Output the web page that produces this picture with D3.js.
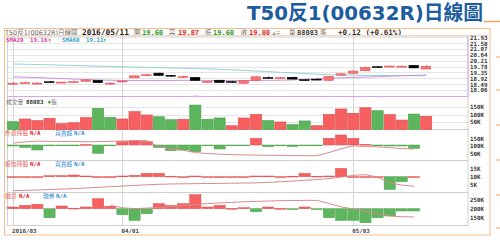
<!DOCTYPE html>
<html>
<head>
<meta charset="utf-8">
<script src="https://cdnjs.cloudflare.com/ajax/libs/d3/7.8.5/d3.min.js"></script>
<style>
  body { margin: 0; background: #fff; }
  svg { display: block; }
  text { font-family: "DejaVu Sans", "Noto Sans CJK TC", sans-serif; }
  .mono { font-family: "DejaVu Sans Mono", "Noto Sans CJK TC", monospace; font-weight: bold; }
</style>
</head>
<body>
<svg id="chart" width="500" height="240"></svg>
<script>
// trading days shown (2016/03/21 .. 2016/05/11)
const dates = ['03/21','03/22','03/23','03/24','03/25','03/28','03/29','03/30','03/31',
  '04/01','04/06','04/07','04/08','04/11','04/12','04/13','04/14','04/15','04/18','04/19',
  '04/20','04/21','04/22','04/25','04/26','04/27','04/28','04/29',
  '05/03','05/04','05/05','05/06','05/09','05/10','05/11'];
const dateTicks = { '03/21': '2016/03', '04/01': '04/01', '05/03': '05/03' };

const open  = [18.52,18.56,18.54,18.67,18.60,18.64,18.70,18.77,18.53,18.68,18.95,19.12,19.30,19.14,19.00,18.99,18.64,18.78,18.68,18.55,18.75,18.98,18.93,19.00,18.82,18.86,18.76,19.15,19.28,19.47,19.78,19.78,19.78,19.87,19.60];
const high  = [18.62,18.66,18.62,18.72,18.66,18.74,18.85,18.78,18.60,18.74,19.12,19.25,19.32,19.18,19.10,19.00,18.72,18.80,18.72,18.76,19.05,19.04,19.00,19.00,18.84,18.90,19.09,19.28,19.48,19.78,19.80,19.85,19.85,19.90,19.87];
const low   = [18.48,18.54,18.52,18.58,18.58,18.62,18.68,18.58,18.45,18.66,18.94,19.10,19.10,19.05,18.98,18.74,18.60,18.58,18.62,18.50,18.74,18.93,18.90,18.85,18.74,18.80,18.74,19.12,19.26,19.45,19.68,19.76,19.76,19.66,19.60];
const close = [18.56,18.60,18.57,18.62,18.64,18.68,18.80,18.60,18.57,18.72,19.10,19.18,19.12,19.08,19.06,18.76,18.70,18.60,18.65,18.74,19.03,18.95,18.97,18.86,18.78,18.83,19.07,19.25,19.45,19.72,19.75,19.82,19.81,19.68,19.80];

const sma20 = [19.03,19.00,18.97,18.93,18.90,18.86,18.83,18.80,18.78,18.76,18.75,18.75,18.76,18.76,18.77,18.77,18.76,18.75,18.75,18.75,18.76,18.77,18.78,18.80,18.84,18.88,18.92,18.95,18.98,19.01,19.04,19.07,19.10,19.13,19.16];
const sma60 = [19.97,19.95,19.93,19.91,19.88,19.86,19.84,19.81,19.79,19.77,19.74,19.72,19.70,19.68,19.66,19.63,19.61,19.58,19.54,19.50,19.45,19.41,19.36,19.32,19.27,19.22,19.18,19.16,19.15,19.14,19.13,19.12,19.12,19.11,19.11];

// volume (張) and bar colour: 1 = up (red), 0 = down (green)
const volume = [52000,70000,59000,75000,39000,45000,79000,141000,81000,70000,119000,97000,85000,65000,68000,163000,68000,77000,25000,77000,
  101000,59000,50000,32000,57000,25000,101000,137000,108000,145000,125000,99000,63000,103000,88083];
const volUp = [0,1,1,1,1,1,1,0,0,1,1,1,0,0,1,0,0,0,1,1,1,0,1,0,0,1,1,1,1,1,0,1,1,0,1];

// 外資 net buy/sell and holding
const foreignNet  = [-300,-700,-1500,-150,-150,-150,150,-2500,-150,1000,1200,1000,-700,-1700,-1500,-2000,-200,-1200,-150,-150,
  2000,-500,-200,-450,-200,-150,2000,3000,2000,200,-150,-300,-300,-1000,null];
const foreignHold = [118000,126000,131000,130000,129000,128000,127000,128000,130000,132000,135000,135000,92000,82000,70000,55000,48000,44000,41000,39000,
  38000,37000,36000,35000,34000,34000,55000,80000,100000,95000,93000,88000,82000,78000,null];

// 投信 net buy/sell and holding
const trustNet  = [0,0,0,100,100,170,70,0,0,70,130,330,330,50,0,70,0,0,0,0,70,70,0,50,330,50,70,830,0,0,0,-1270,-500,0,null];
const trustHold = [1000,1200,1400,1700,2000,2300,2700,3100,3500,3900,4300,4700,5000,5200,5300,5400,5500,5600,5700,5800,
  5900,6200,6600,7000,7500,8000,8600,9500,10600,11000,9500,6000,4500,3800,null];

// 融資 change and balance
const marginNet = [340,660,860,-1800,540,100,340,2000,460,-1200,-2340,-1000,1000,660,1000,2800,340,660,60,200,
  -600,340,60,-140,340,-140,-1800,-2340,-2340,-2800,-1800,-1460,-460,-460,null];
const marginBal = [null,null,null,null,null,null,null,null,220000,205000,200000,203000,207000,212000,218000,224000,229000,233000,236000,240000,
  242000,244000,246000,247000,248000,248000,230000,210000,198000,185000,170000,158000,153000,152000,null];

const priceTicks = [21.93,21.50,21.07,20.64,20.21,19.78,19.35,18.92,18.49,18.06];
const volTicks = [150000,100000,50000];
const foreignTicks = [150000,100000,50000];
const trustTicks = [15000,10000,5000];
const marginTicks = [250000,200000,150000];

const RED = '#f66060', GREEN = '#5db65d';
const svg = d3.select('#chart');

// title
svg.append('text').attr('x', 247).attr('y', 20)
  .attr('font-family', '"Noto Sans CJK TC", sans-serif').attr('font-weight', 'bold')
  .attr('font-size', 20).attr('fill', '#1d5c9f')
  .attr('textLength', 236).attr('lengthAdjust', 'spacingAndGlyphs')
  .text('T50反1(00632R)日線圖');
svg.append('line').attr('x1', 484).attr('x2', 500).attr('y1', 21.5).attr('y2', 21.5)
  .attr('stroke', '#f5a55f').attr('stroke-width', 1.5);

// outer frame
svg.append('rect').attr('x', 4.5).attr('y', 28.5).attr('width', 485.5).attr('height', 206.5)
  .attr('fill', '#fff').attr('stroke', '#f7bd8d');
svg.selectAll('.otick').data([57, 90, 125, 160, 195, 228]).join('line')
  .attr('x1', 496).attr('x2', 500).attr('y1', d => d).attr('y2', d => d)
  .attr('stroke', '#f5a55f');

// scales
const x = d3.scaleBand().domain(d3.range(38)).range([7, 468.7]).paddingInner(0.08).paddingOuter(0.04);
const cx = i => x(i) + x.bandwidth() / 2;
const yPrice = d3.scaleLinear().domain([18.06, 21.93]).range([90, 37.3]);
const yVol = d3.scaleLinear().domain([0, 150000]).range([129.5, 107]);
const yFHold = d3.scaleLinear().domain([50000, 150000]).range([153.3, 138.3]);
const yFNet = d3.scaleLinear().domain([-3000, 3000]).range([155, 135]);
const yTHold = d3.scaleLinear().domain([5000, 15000]).range([184.3, 168.3]);
const yTNet = d3.scaleLinear().domain([-1500, 1500]).range([191.7, 161.7]);
const yMBal = d3.scaleLinear().domain([150000, 250000]).range([217.3, 200]);
const yMNet = d3.scaleLinear().domain([-3000, 3000]).range([223.7, 193.7]);

const L = 7.5, R = 468, TOP = 36, BOT = 225.5;

// gridlines
const grid = svg.append('g').attr('stroke', '#e6e6e6').attr('stroke-width', 1);
grid.selectAll('.gp').data(priceTicks).join('line')
  .attr('x1', L).attr('x2', R).attr('y1', d => Math.round(yPrice(d)) + 0.5).attr('y2', d => Math.round(yPrice(d)) + 0.5);
grid.selectAll('.gv').data(volTicks).join('line')
  .attr('x1', L).attr('x2', R).attr('y1', d => Math.round(yVol(d)) + 0.5).attr('y2', d => Math.round(yVol(d)) + 0.5);
svg.selectAll('.gd').data(Object.keys(dateTicks)).join('line')
  .attr('x1', d => Math.round(cx(dates.indexOf(d))) + 0.5).attr('x2', d => Math.round(cx(dates.indexOf(d))) + 0.5)
  .attr('y1', TOP).attr('y2', BOT).attr('stroke', '#d6d6d6');

// panel borders
svg.append('rect').attr('x', L).attr('y', TOP).attr('width', R - L).attr('height', BOT - TOP)
  .attr('fill', 'none').attr('stroke', '#cfcfcf');
svg.selectAll('.sep').data([129.5, 160.5, 192.5]).join('line')
  .attr('x1', L).attr('x2', R).attr('y1', d => d).attr('y2', d => d).attr('stroke', '#cfcfcf');
svg.append('line').attr('x1', L).attr('x2', R).attr('y1', 96.5).attr('y2', 96.5).attr('stroke', '#dba6e8');
svg.append('line').attr('x1', R).attr('x2', R).attr('y1', TOP).attr('y2', 96.5).attr('stroke', '#dba6e8');
svg.append('path').attr('d', 'M193,97 L196.5,95 L200,97').attr('fill', 'none').attr('stroke', '#e8b8e8');

// header bar
const header = svg.append('g').attr('font-size', 6.5);
[
  { t: 'T50反1(00632R)', x: 5, c: '#666', m: false },
  { t: '日線圖', x: 58, c: '#666', m: false },
  { t: '2016/05/11', x: 82, c: '#222', m: true, s: 7.8 },
  { t: '開', x: 134, c: '#666', m: false },
  { t: '19.60', x: 142, c: '#2a9d2a', m: true, s: 7 },
  { t: '高', x: 169, c: '#666', m: false },
  { t: '19.87', x: 178, c: '#e02525', m: true, s: 7 },
  { t: '低', x: 205, c: '#666', m: false },
  { t: '19.60', x: 213, c: '#2a9d2a', m: true, s: 7 },
  { t: '收', x: 241, c: '#666', m: false },
  { t: '19.80', x: 249, c: '#e02525', m: true, s: 7 },
  { t: '▲元', x: 272, c: '#999', m: false, s: 5 },
  { t: '量', x: 289, c: '#666', m: false },
  { t: '88083', x: 297, c: '#444', m: true, s: 7 },
  { t: '張', x: 320, c: '#666', m: false },
  { t: '+0.12 (+0.61%)', x: 338, c: '#333', m: true, s: 7.6 }
].forEach(d => {
  header.append('text').attr('x', d.x).attr('y', 34.5).attr('fill', d.c)
    .attr('class', d.m ? 'mono' : null).attr('font-size', d.s || 6.5).text(d.t);
});
svg.append('line').attr('x1', 4.5).attr('x2', 490).attr('y1', 35.5).attr('y2', 35.5).attr('stroke', '#f3d6bd');

// panel labels
function label(items, y) {
  items.forEach(d => {
    svg.append('text').attr('x', d.x).attr('y', y).attr('fill', d.c)
      .attr('class', d.m ? 'mono' : null).attr('font-size', d.s || 5.8).text(d.t);
  });
}
label([
  { t: 'SMA20', x: 6, c: '#e43c9c', m: true }, { t: '19.16', x: 30, c: '#e43c9c', m: true }, { t: '↑', x: 48, c: '#e02020', m: true },
  { t: 'SMA60', x: 62, c: '#3aa3c9', m: true }, { t: '19.11', x: 86, c: '#3aa3c9', m: true }, { t: '↑', x: 103, c: '#2a9d2a', m: true }
], 41.5);
label([
  { t: '成交量', x: 6, c: '#777' }, { t: '88083', x: 26, c: '#333', m: true }, { t: '♦', x: 47, c: '#2a9d2a', s: 5 }, { t: '張', x: 51, c: '#777' }
], 103.5);
label([
  { t: '外資持股', x: 5, c: '#e06060' }, { t: 'N/A', x: 30, c: '#e02525', m: true },
  { t: '買賣超', x: 55, c: '#3a8fd0' }, { t: 'N/A', x: 74, c: '#3a8fd0', m: true }
], 134.5);
label([
  { t: '投信持股', x: 5, c: '#e06060' }, { t: 'N/A', x: 30, c: '#e02525', m: true },
  { t: '買賣超', x: 55, c: '#3a8fd0' }, { t: 'N/A', x: 74, c: '#3a8fd0', m: true }
], 166);
label([
  { t: '融資', x: 5, c: '#e06060' }, { t: 'N/A', x: 19, c: '#e02525', m: true },
  { t: '融券', x: 43, c: '#3a8fd0' }, { t: 'N/A', x: 56, c: '#3a8fd0', m: true }
], 197.5);

// moving averages
const maLine = d3.line().defined(d => d != null).x((d, i) => cx(i)).y(d => yPrice(d));
svg.append('path').datum(sma60).attr('d', maLine).attr('fill', 'none').attr('stroke', '#93d3d3').attr('stroke-width', 1);
svg.append('path').datum(sma20).attr('d', maLine).attr('fill', 'none').attr('stroke', '#c993dc').attr('stroke-width', 1);

// candles
const candles = svg.append('g').selectAll('g').data(dates).join('g');
const up = i => close[i] >= open[i];
candles.append('line')
  .attr('x1', (d, i) => Math.round(cx(i)) + 0.5).attr('x2', (d, i) => Math.round(cx(i)) + 0.5)
  .attr('y1', (d, i) => yPrice(high[i])).attr('y2', (d, i) => yPrice(low[i]))
  .attr('stroke', (d, i) => up(i) ? '#e83a3a' : '#000');
candles.append('rect')
  .attr('x', (d, i) => x(i) + 0.5).attr('width', x.bandwidth() - 1.5)
  .attr('y', (d, i) => yPrice(Math.max(open[i], close[i])))
  .attr('height', (d, i) => Math.max(1, Math.abs(yPrice(open[i]) - yPrice(close[i]))))
  .attr('fill', (d, i) => up(i) ? '#f77474' : '#000')
  .attr('stroke', (d, i) => up(i) ? '#e84a4a' : '#000').attr('stroke-width', 0.5);

// volume bars
svg.append('g').selectAll('rect').data(volume).join('rect')
  .attr('x', (d, i) => x(i)).attr('width', x.bandwidth())
  .attr('y', d => yVol(d)).attr('height', d => yVol(0) - yVol(d))
  .attr('fill', (d, i) => volUp[i] ? RED : GREEN)
  .attr('stroke', (d, i) => volUp[i] ? '#e04848' : '#46a046').attr('stroke-width', 0.6);

// net buy/sell bars + holding line for the three lower panels
function netPanel(net, hold, yNet, yHold) {
  svg.append('g').selectAll('rect').data(net).join('rect')
    .filter(d => d != null)
    .attr('x', (d, i) => x(i)).attr('width', x.bandwidth())
    .attr('y', d => Math.min(yNet(d), yNet(0)))
    .attr('height', d => Math.max(0.8, Math.abs(yNet(d) - yNet(0))))
    .attr('fill', d => d >= 0 ? RED : GREEN)
    .attr('stroke', d => d >= 0 ? '#e04848' : '#46a046').attr('stroke-width', 0.5);
  svg.append('path').datum(hold)
    .attr('d', d3.line().defined(d => d != null).x((d, i) => cx(i)).y(d => yHold(d)))
    .attr('fill', 'none').attr('stroke', '#d68c8c').attr('stroke-width', 1);
}
netPanel(foreignNet, foreignHold, yFNet, yFHold);
netPanel(trustNet, trustHold, yTNet, yTHold);
netPanel(marginNet, marginBal, yMNet, yMBal);

// right axes
function rightAxis(scale, ticks, fmt) {
  const g = svg.append('g').attr('transform', 'translate(470,0)')
    .call(d3.axisRight(scale).tickValues(ticks).tickSize(0).tickPadding(0).tickFormat(fmt));
  g.select('.domain').remove();
  g.selectAll('text').attr('class', 'mono').attr('font-size', 5.8).attr('fill', '#333');
}
rightAxis(yPrice, priceTicks, d3.format('.2f'));
rightAxis(yVol, volTicks, d => d / 1000 + 'K');
rightAxis(yFHold, foreignTicks, d => d / 1000 + 'K');
rightAxis(yTHold, trustTicks, d => d / 1000 + 'K');
rightAxis(yMBal, marginTicks, d => d / 1000 + 'K');

// date axis
const gx = svg.append('g').attr('transform', `translate(0,${BOT})`)
  .call(d3.axisBottom(x).tickValues(Object.keys(dateTicks).map(d => dates.indexOf(d)))
    .tickSize(0).tickPadding(3).tickFormat(i => dateTicks[dates[i]]));
gx.select('.domain').remove();
gx.selectAll('text').attr('class', 'mono').attr('font-size', 5.8).attr('fill', '#444')
  .attr('text-anchor', 'start').attr('dx', -1);
</script>
</body>
</html>
